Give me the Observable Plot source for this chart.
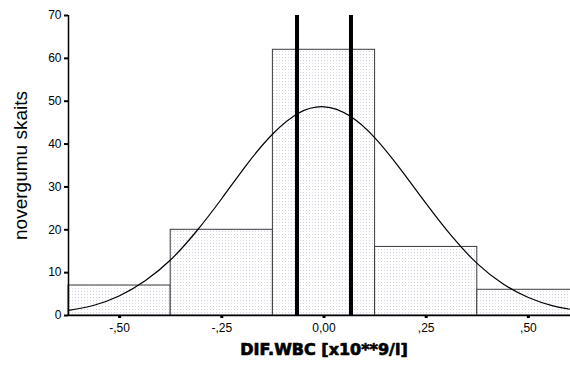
<!DOCTYPE html>
<html>
<head>
<meta charset="utf-8">
<script src="https://cdn.jsdelivr.net/npm/d3@7"></script>
<script src="https://cdn.jsdelivr.net/npm/@observablehq/plot@0.6"></script>
<style>
  html, body { margin: 0; padding: 0; background: #fff; overflow: hidden; }
  #chart svg { display: block; overflow: hidden; }
</style>
</head>
<body>
<div id="chart"></div>
<script>
// Histogram bins (DIF.WBC)
const binStart = [-0.625, -0.375, -0.125, 0.125, 0.375];
const binEnd   = [-0.375, -0.125, 0.125, 0.375, 0.625];
const counts   = [7, 20, 62, 16, 6];

// Fitted normal curve
const curveX = [-0.625, -0.5625, -0.5, -0.4375, -0.375, -0.3125, -0.25, -0.1875, -0.125, -0.0625, 0,
                0.0625, 0.125, 0.1875, 0.25, 0.3125, 0.375, 0.4375, 0.5, 0.5625, 0.625];
const curveY = [1.2, 2.4, 4.6, 8.1, 13.0, 19.6, 27.3, 35.4, 42.4, 47.2, 48.7,
                46.6, 41.4, 34.1, 26.1, 18.5, 12.1, 7.4, 4.2, 2.2, 1.1];

// Thick vertical reference lines
const refLines = [-0.066, 0.066];

// Ticks
const xTicks = [-0.5, -0.25, 0, 0.25, 0.5];
const xTickLabels = ["-,50", "-,25", "0,00", ",25", ",50"];
const yTicks = [0, 10, 20, 30, 40, 50, 60, 70];

const xTitle = "DIF.WBC [x10**9/l]";
const yTitle = "novergumu skaits";

const bars = binStart.map((s, i) => ({x1: s, x2: binEnd[i], y: counts[i]}));
const curve = curveX.map((x, i) => ({x, y: curveY[i]}));

const font = "'Liberation Sans', Arial, sans-serif";

const plot = Plot.plot({
  width: 570,
  height: 372,
  marginLeft: 68,
  marginRight: -9,
  marginTop: 15,
  marginBottom: 57,
  style: {fontFamily: font, fontSize: "12px", color: "#000", background: "#fff", overflow: "hidden"},
  x: {domain: [-0.625, 0.625], range: [68, 579]},
  y: {domain: [0, 70], range: [315, 15]},
  marks: [
    Plot.rectY(bars, {x1: "x1", x2: "x2", y: "y", fill: "url(#dots)", stroke: "#3a3a3a", strokeWidth: 1, inset: 0}),
    Plot.line(curve, {x: "x", y: "y", curve: "natural", stroke: "#000", strokeWidth: 1.2}),
    Plot.ruleX(refLines, {y1: 0, y2: 70, stroke: "#000", strokeWidth: 4}),
    Plot.ruleX([-0.625], {y1: 0, y2: 70, stroke: "#000", strokeWidth: 1.5}),
    Plot.ruleY([0], {stroke: "#000", strokeWidth: 1.5}),
    Plot.axisY(yTicks, {tickSize: 4, tickPadding: 3, strokeWidth: 2, label: null, fontSize: 12}),
    Plot.axisX(xTicks, {tickSize: 3, tickPadding: 5, strokeWidth: 3, label: null, fontSize: 12,
      tickFormat: (d) => xTickLabels[xTicks.indexOf(d)]}),
    Plot.text([xTitle], {frameAnchor: "bottom", dy: 39, fontFamily: "'DejaVu Sans', sans-serif",
      fontWeight: 900, fontSize: 16, fill: "#000", stroke: "#000", strokeWidth: 0.7,
      letterSpacing: "1.5px"}),
    Plot.text([yTitle], {frameAnchor: "left", dx: -48, rotate: -90, textAnchor: "middle", fontFamily: font,
      fontSize: 19, fill: "#000", letterSpacing: "-0.3px"})
  ]
});

// Dotted fill pattern for bars
const ns = "http://www.w3.org/2000/svg";
const defs = document.createElementNS(ns, "defs");
const pat = document.createElementNS(ns, "pattern");
pat.setAttribute("id", "dots");
pat.setAttribute("width", "3");
pat.setAttribute("height", "3");
pat.setAttribute("patternUnits", "userSpaceOnUse");
const bg = document.createElementNS(ns, "rect");
bg.setAttribute("width", "3"); bg.setAttribute("height", "3"); bg.setAttribute("fill", "#ffffff");
const dot = document.createElementNS(ns, "rect");
dot.setAttribute("width", "1"); dot.setAttribute("height", "1"); dot.setAttribute("fill", "#d4d4ec");
pat.appendChild(bg); pat.appendChild(dot); defs.appendChild(pat);
plot.insertBefore(defs, plot.firstChild);

document.getElementById("chart").appendChild(plot);
</script>
</body>
</html>
